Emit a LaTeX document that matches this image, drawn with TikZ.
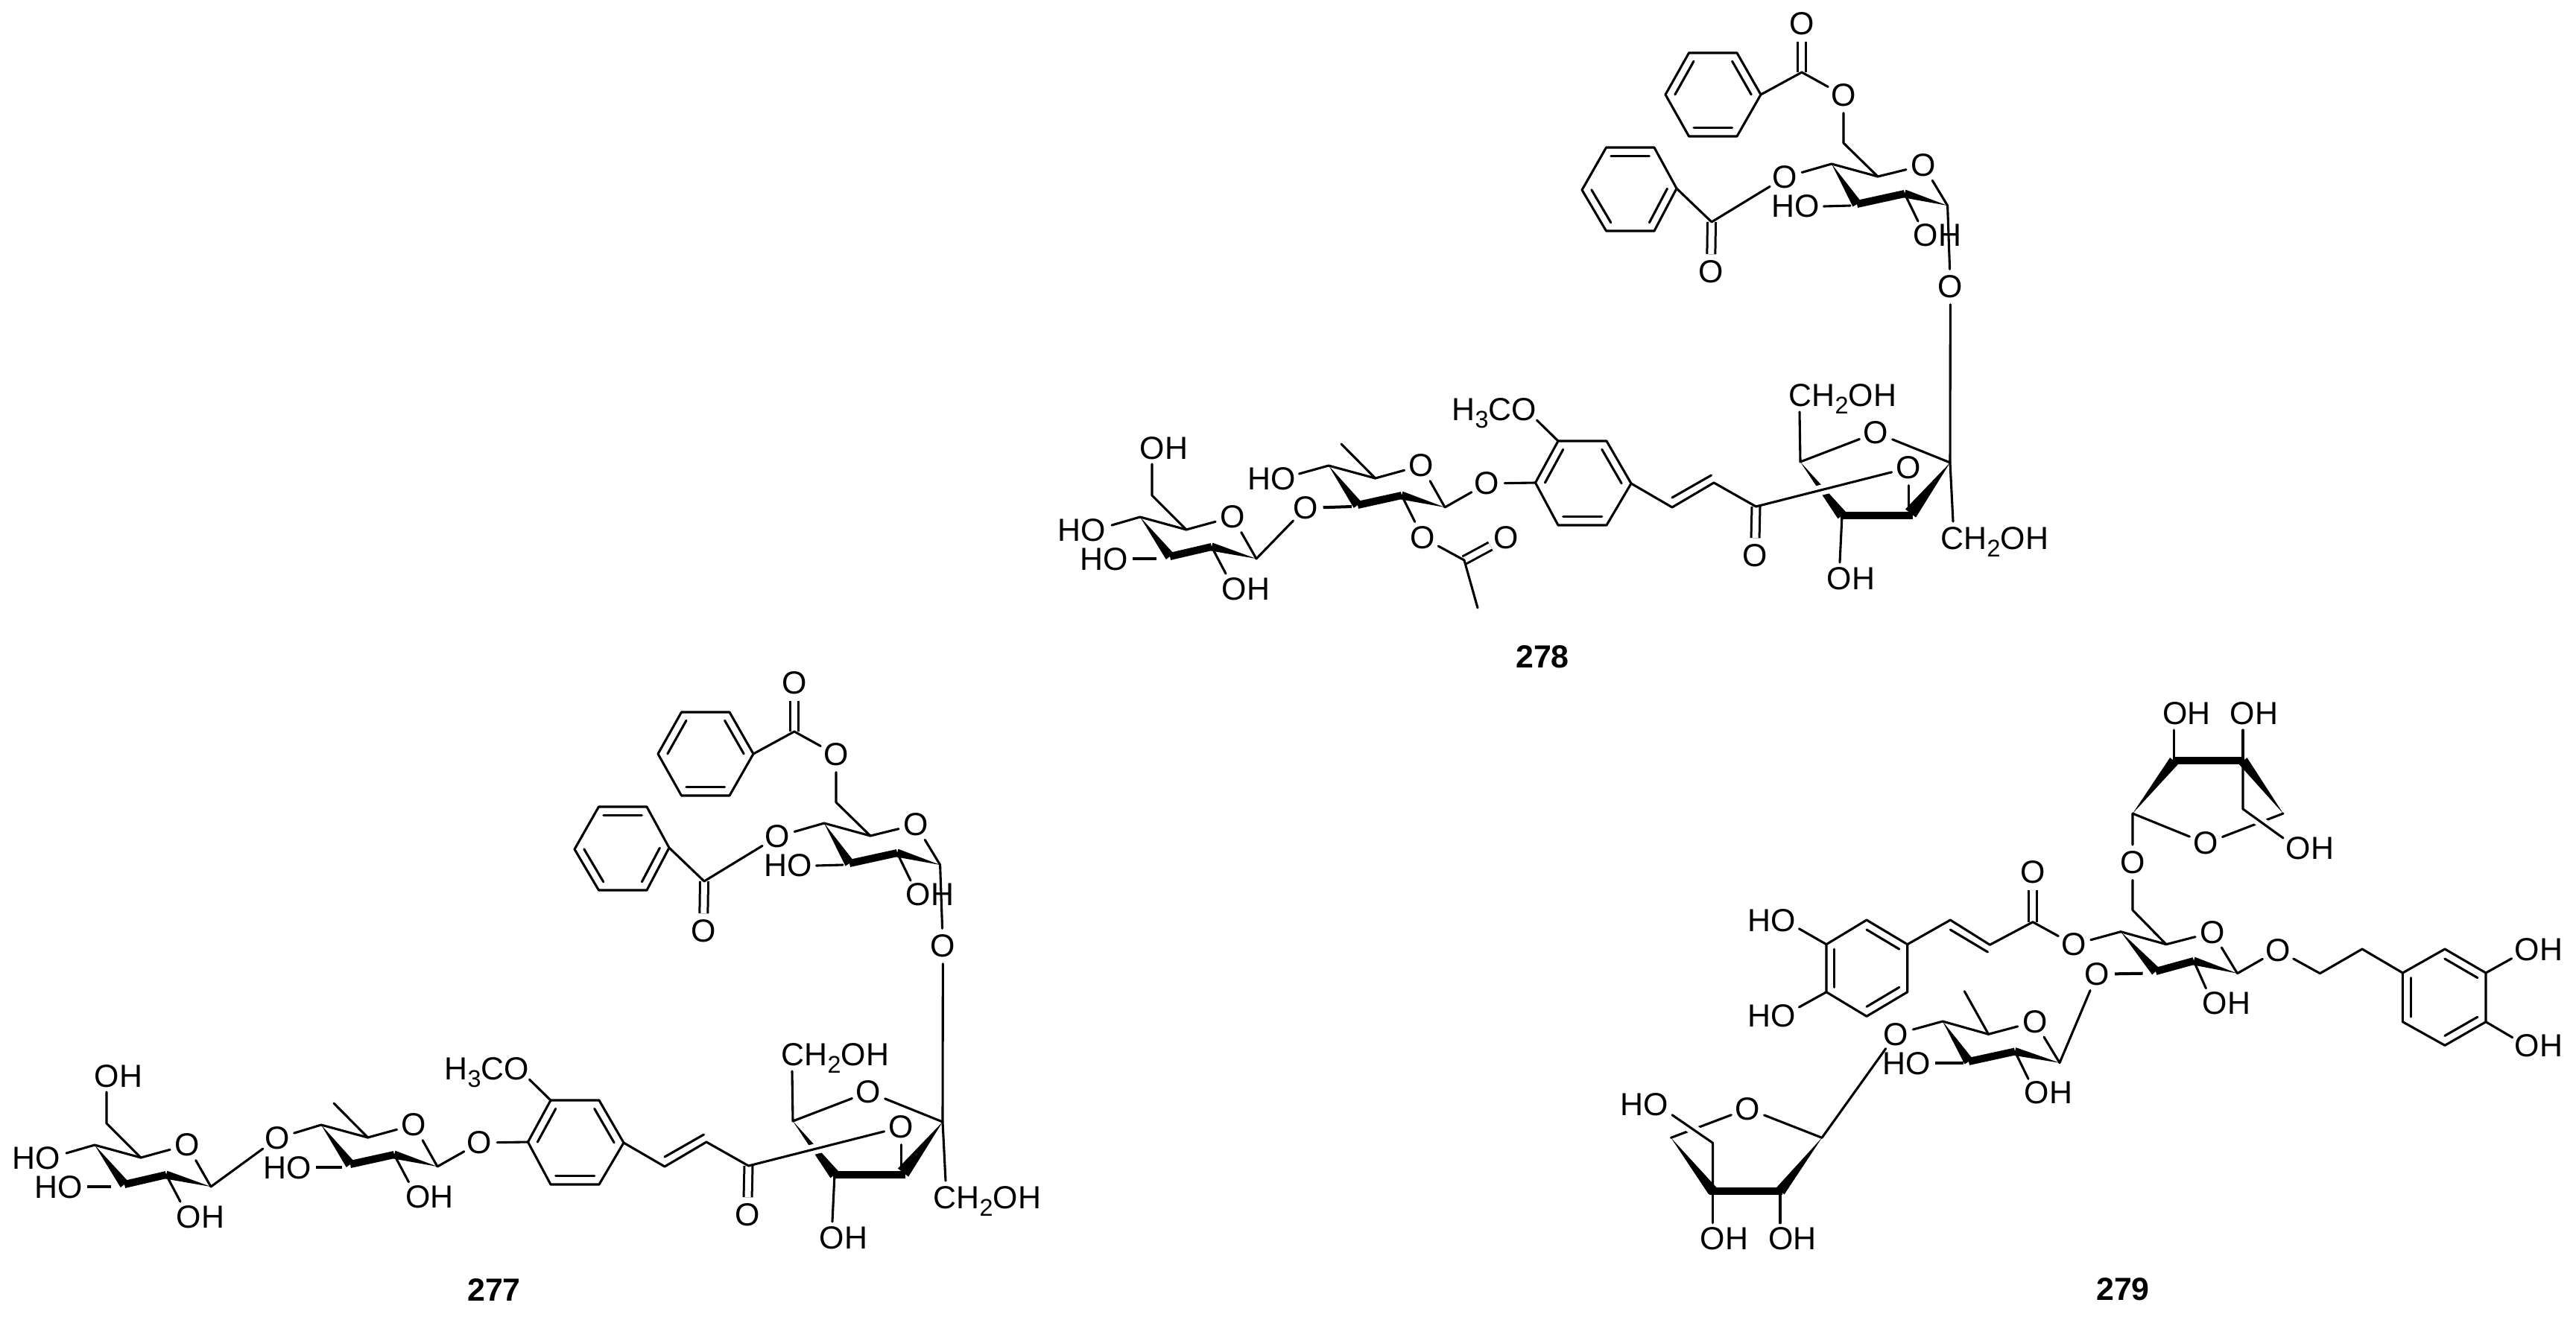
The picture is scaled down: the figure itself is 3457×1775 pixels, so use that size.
\documentclass[tikz,border=0pt]{standalone}
\usepackage{fontspec}
\setmainfont{Liberation Sans}
\usetikzlibrary{calc}
\newcommand{\subn}[1]{\raisebox{-0.24em}{\fontsize{9.2}{9.2}\selectfont #1}}
\newcommand{\wdg}[3]{\fill[black] (#1) -- ($(#2)!#3!90:(#1)$) -- ($(#2)!#3!-90:(#1)$) -- cycle;}
\newcommand{\inb}[3]{\draw[bond] ($(#1)!.2!(#3)$) -- ($(#2)!.2!(#3)$);}
\tikzset{
  bond/.style={line width=.031cm,line cap=round,line join=round},
  bbond/.style={line width=.1cm,line cap=butt},
  dbl/.style={line width=.03cm,double,double distance=.08cm},
  halo/.style={white,line width=.14cm},
  atom/.style={circle,inner sep=0pt,minimum size=.46cm,font=\fontsize{12.2}{14}\selectfont},
  txt/.style={inner sep=0pt,font=\fontsize{12.2}{14}\selectfont},
  txtw/.style={inner sep=0pt,anchor=base west,font=\fontsize{12.2}{14}\selectfont},
  num/.style={inner sep=0pt,font=\fontsize{12.2}{14}\selectfont\bfseries}
}
% glucose ring at the left end of 277 and 278
\newcommand{\sugarA}{
  \coordinate (aC6) at (1546,665); \coordinate (aC5) at (1592,711); \coordinate (aC1) at (1686,750);
  \coordinate (aC2) at (1626,734); \coordinate (aC3) at (1570,747); \coordinate (aC4) at (1530,694);
  \coordinate (e1) at (1546,623); \coordinate (e2) at (1492,705); \coordinate (e3) at (1520,750);
  \coordinate (e4) at (1552,750); \coordinate (e5) at (1645,770);
  \node[atom] (aO) at (1654,694) {O};
  \node[txt] (t1) at (1562,602) {OH};
  \node[txt] (t2) at (1452,711.5) {HO};
  \node[txt] (t3) at (1482,751) {HO};
  \node[txt] (t4) at (1672,790.5) {OH};
  \draw[bond] (e1) -- (aC6) -- (aC5) -- (aO) -- (aC1);
  \draw[bond] (aC4) -- (aC5);
  \draw[bond] (e2) -- (aC4);
  \draw[line width=.045cm] (e3) -- (e4);
  \draw[bond] (aC2) -- (e5);
  \wdg{aC4}{aC3}{.065cm}
  \draw[bbond] (aC3) -- (aC2);
  \wdg{aC1}{aC2}{.055cm}
}
% everything from the second sugar to the benzoylated sugar, as drawn in 278
\newcommand{\commonmol}{
  % second sugar
  \coordinate (bC4) at (1783,625); \coordinate (bC5) at (1845.6,642); \coordinate (bC1) at (1939,681);
  \coordinate (bC2) at (1881,665); \coordinate (bC3) at (1822,678); \coordinate (bMe) at (1800,596);
  \node[atom] (bO) at (1907.5,625) {O};
  \node[atom] (xO) at (1995.5,649) {O};
  \draw[bond] (bMe) -- (bC5); \draw[bond] (bC4) -- (bC5) -- (bO) -- (bC1) -- (xO);
  \wdg{bC4}{bC3}{.065cm}
  \draw[bbond] (bC3) -- (bC2);
  \wdg{bC1}{bC2}{.055cm}
  % aryl ring
  \coordinate (r1) at (2060.5,648); \coordinate (r2) at (2091,592); \coordinate (r3) at (2156,592);
  \coordinate (r4) at (2189,649); \coordinate (r5) at (2156,705); \coordinate (r6) at (2091,705);
  \coordinate (rc) at (2124.7,648.5);
  \draw[bond] (r1) -- (r2) -- (r3) -- (r4) -- (r5) -- (r6) -- cycle;
  \inb{r1}{r2}{rc} \inb{r3}{r4}{rc} \inb{r5}{r6}{rc}
  \draw[bond] (xO) -- (r1);
  \coordinate (me) at (2062.4,564);
  \node[txtw] (tome) at (1948,564) {H\subn{3}CO};
  \draw[bond] (me) -- (r2);
  % enone
  \coordinate (ch1) at (2244,681); \coordinate (ch2) at (2300,648); \coordinate (kC) at (2356.5,680);
  \coordinate (d1) at (2244,668); \coordinate (d2) at (2296.5,638);
  \node[atom] (kO) at (2355,746) {O};
  \draw[dbl] (kC) -- (kO);
  \draw[bond] (r4) -- (ch1) -- (ch2) -- (kC);
  \draw[bond] (d1) -- (d2);
  % furanose
  \coordinate (fS) at (2617,621); \coordinate (fC) at (2416,620); \coordinate (fb) at (2472,692);
  \coordinate (fb0) at (2470,692); \coordinate (fd) at (2567,692); \coordinate (fw) at (2564,689);
  \coordinate (fv) at (2561.6,685); \coordinate (e6) at (2415,553); \coordinate (e7) at (2469,755);
  \coordinate (e8) at (2621,700);
  \node[atom] (fO1) at (2517.6,581) {O};
  \node[atom] (fO2) at (2561.6,628) {O};
  \node[txtw] (t5) at (2400,545) {CH\subn{2}OH};
  \node[txtw] (t6) at (2604,737) {CH\subn{2}OH};
  \node[txt] (t7) at (2484,777) {OH};
  \draw[bond] (fS) -- (fO1) -- (fC) -- (e6);
  \wdg{fC}{fb}{.07cm}
  \draw[halo] ($(fO2)!.50!(kC)$) -- ($(fO2)!.66!(kC)$);
  \draw[bond] (fO2) -- (kC);
  \draw[bond] (fO2) -- (fv);
  \draw[bbond] (fb0) -- (fd);
  \wdg{fS}{fw}{.09cm}
  \draw[bond] (fS) -- (e8);
  \draw[bond] (fb) -- (e7);
  % benzoylated sugar
  \coordinate (c4) at (2458,220); \coordinate (c5) at (2520,237); \coordinate (c1) at (2613.6,276);
  \coordinate (c2) at (2556,260); \coordinate (c3) at (2492,274); \coordinate (c6) at (2474,192);
  \coordinate (e9) at (2447.5,277); \coordinate (e10) at (2483,276); \coordinate (e11) at (2574,297);
  \node[atom] (sO5) at (2581,222) {O};
  \node[atom] (sO) at (2617.4,385) {O};
  \node[txt] (t8) at (2410,277) {HO};
  \node[txt] (t9) at (2600,316) {OH};
  \draw[bond] (c6) -- (c5) -- (sO5) -- (c1) -- (sO) -- (fS);
  \draw[bond] (c4) -- (c5);
  \draw[bond] (e9) -- (e10);
  \draw[bond] (c2) -- (e11);
  \wdg{c4}{c3}{.065cm}
  \draw[bbond] (c3) -- (c2);
  \wdg{c1}{c2}{.055cm}
  % upper benzoyl
  \coordinate (u1) at (2266.5,71); \coordinate (u2) at (2331,71); \coordinate (u3) at (2363,127);
  \coordinate (u4) at (2331,183); \coordinate (u5) at (2266.5,183); \coordinate (u6) at (2235,127);
  \coordinate (uc) at (2299,127); \coordinate (ue) at (2418,97);
  \node[atom] (uO) at (2418,32) {O};
  \node[atom] (uEO) at (2474,128) {O};
  \draw[dbl] (ue) -- (uO);
  \draw[bond] (u1) -- (u2) -- (u3) -- (u4) -- (u5) -- (u6) -- cycle;
  \inb{u1}{u6}{uc} \inb{u2}{u3}{uc} \inb{u4}{u5}{uc}
  \draw[bond] (u3) -- (ue) -- (uEO) -- (c6);
  % lower benzoyl
  \coordinate (l1) at (2155.5,198); \coordinate (l2) at (2220,198); \coordinate (l3) at (2250,253);
  \coordinate (l4) at (2220,310); \coordinate (l5) at (2155.5,310); \coordinate (l6) at (2123,255);
  \coordinate (lc) at (2187,254); \coordinate (le) at (2297,298);
  \node[atom] (lO) at (2296,365) {O};
  \node[atom] (lEO) at (2395.4,238) {O};
  \draw[dbl] (le) -- (lO);
  \draw[bond] (l1) -- (l2) -- (l3) -- (l4) -- (l5) -- (l6) -- cycle;
  \inb{l1}{l2}{lc} \inb{l3}{l4}{lc} \inb{l5}{l6}{lc}
  \draw[bond] (l3) -- (le) -- (lEO) -- (c4);
}
\begin{document}
\begin{tikzpicture}[x=.01cm,y=-.01cm]
\fill[white] (0,0) rectangle (3457,1775);
\useasboundingbox (0,0) rectangle (3457,1775);

% ---------- 278
\begin{scope}[name prefix=m-]
  \commonmol
  \sugarA
  \coordinate (gC) at (1814,680); \coordinate (g1) at (1743.5,636);
  \node[atom] (gO) at (1752,682) {O};
  \node[txt] (g2) at (1707,642.5) {HO};
  \draw[bond] (aC1) -- (gO);
  \draw[line width=.04cm] (gO) -- (gC);
  \draw[bond] (g1) -- (bC4);
  % acetyl
  \coordinate (acC) at (1965,752); \coordinate (acM) at (1983,816);
  \node[atom] (acO) at (1909.4,721.7) {O};
  \node[atom] (acD) at (2021,721.7) {O};
  \draw[dbl] (acC) -- (acD);
  \draw[bond] (bC2) -- (acO) -- (acC) -- (acM);
\end{scope}
\node[num] (n278) at (2070,882) {278};

% ---------- 277
\begin{scope}[shift={(-1352,885)},name prefix=n-]
  \commonmol
\end{scope}
\begin{scope}[shift={(-1403,843)},name prefix=n-]
  \sugarA
\end{scope}
\coordinate (h1) at (424,1567); \coordinate (h2) at (459,1567); \coordinate (h3) at (548.5,1586.7);
\node[atom] (hO) at (372,1528) {O};
\node[txt] (h4) at (386,1567.5) {HO};
\node[txt] (h5) at (576.5,1606.5) {OH};
\draw[bond] (n-aC1) -- (hO) -- (n-bC4);
\draw[line width=.04cm] (h1) -- (h2);
\draw[bond] (n-bC2) -- (h3);
\node[num] (n277) at (663,1731) {277};

% ---------- 279
% top furanose
\coordinate (pL) at (2862,1092); \coordinate (pR) at (3064,1092); \coordinate (pA) at (2917.6,1021.4);
\coordinate (pB) at (3010,1021.4); \coordinate (pX) at (3010,1086); \coordinate (p1) at (2917.6,980);
\coordinate (p2) at (3010,980); \coordinate (p3) at (3064,1125);
\node[txt] (p4) at (2934.6,957.5) {OH};
\node[txt] (p5) at (3025,957.5) {OH};
\node[txt] (p6) at (3100,1138.5) {OH};
\node[atom] (pO) at (2960.4,1132) {O};
\draw[bond] (pL) -- (pO) -- (pR);
\wdg{pL}{pA}{.07cm}
\wdg{pR}{pB}{.07cm}
\draw[bbond] (pA) -- (pB);
\draw[bond] (pA) -- (p1);
\draw[bond] (pB) -- (p2);
\draw[halo] ($(pX)!.2!(p3)$) -- ($(pX)!.7!(p3)$);
\draw[bond] (pB) -- (pX) -- (p3);
% central sugar
\coordinate (qC6) at (2862,1221.7); \coordinate (qC5) at (2907,1267.7); \coordinate (qC4) at (2846,1250.7);
\coordinate (qC3) at (2893,1304); \coordinate (qC2) at (2944,1290); \coordinate (qC1) at (3002.5,1306.7);
\coordinate (q1) at (2875.6,1306.7); \coordinate (q2) at (2960.4,1326.7);
\node[atom] (qO6) at (2862,1157.7) {O};
\node[atom] (qO5) at (2969,1251.7) {O};
\node[atom] (qO4) at (2783,1268) {O};
\node[atom] (qO3) at (2814.3,1307.7) {O};
\node[atom] (qO1) at (3057,1275.5) {O};
\node[txt] (q3) at (2988,1346.5) {OH};
\draw[bond] (pL) -- (qO6) -- (qC6) -- (qC5) -- (qO5) -- (qC1) -- (qO1);
\draw[bond] (qC4) -- (qC5);
\draw[bond] (qC4) -- (qO4);
\draw[line width=.04cm] (qO3) -- (q1);
\draw[bond] (qC2) -- (q2);
\wdg{qC4}{qC3}{.065cm}
\draw[bbond] (qC3) -- (qC2);
\wdg{qC1}{qC2}{.055cm}
% caffeoyl
\coordinate (vC) at (2728,1237.7); \coordinate (v1) at (2670.4,1268.3); \coordinate (v2) at (2617.3,1235);
\coordinate (v3) at (2617.3,1248); \coordinate (v4) at (2667.5,1278);
\coordinate (w1) at (2559.7,1267.7); \coordinate (w2) at (2505,1235); \coordinate (w3) at (2451,1267.7);
\coordinate (w4) at (2451,1331.7); \coordinate (w5) at (2505,1364.3); \coordinate (w6) at (2559.7,1331.7);
\coordinate (wc) at (2505,1299.7); \coordinate (w7) at (2414.4,1246.7); \coordinate (w8) at (2414.4,1352);
\node[atom] (vO) at (2728,1171) {O};
\node[txt] (w9) at (2378,1236) {HO};
\node[txt] (w10) at (2378,1364) {HO};
\draw[dbl] (vC) -- (vO);
\draw[bond] (qO4) -- (vC) -- (v1) -- (v2) -- (w1);
\draw[bond] (v3) -- (v4);
\draw[bond] (w1) -- (w2) -- (w3) -- (w4) -- (w5) -- (w6) -- cycle;
\inb{w1}{w2}{wc} \inb{w3}{w4}{wc} \inb{w5}{w6}{wc}
\draw[bond] (w7) -- (w3);
\draw[bond] (w8) -- (w4);
% hydroxytyrosol
\coordinate (y1) at (3113.4,1306.7); \coordinate (y2) at (3170,1274);
\coordinate (z1) at (3224.4,1306); \coordinate (z2) at (3281,1274); \coordinate (z3) at (3336,1306);
\coordinate (z4) at (3336,1371.7); \coordinate (z5) at (3281,1403.3); \coordinate (z6) at (3224.4,1371.7);
\coordinate (zc) at (3280,1339); \coordinate (z7) at (3370.6,1286.7); \coordinate (z8) at (3371.7,1392.7);
\node[txt] (z9) at (3407,1275) {OH};
\node[txt] (z10) at (3407,1404) {OH};
\draw[bond] (qO1) -- (y1) -- (y2) -- (z1);
\draw[bond] (z1) -- (z2) -- (z3) -- (z4) -- (z5) -- (z6) -- cycle;
\inb{z2}{z3}{zc} \inb{z4}{z5}{zc} \inb{z6}{z1}{zc}
\draw[bond] (z3) -- (z7);
\draw[bond] (z4) -- (z8);
% rhamnose
\coordinate (sC1) at (2764,1426.7); \coordinate (sC2) at (2704,1411.5); \coordinate (sC3) at (2642,1425);
\coordinate (sC4) at (2607,1371); \coordinate (sC5) at (2668.5,1388.3); \coordinate (sMe) at (2636.3,1330.7);
\coordinate (s1) at (2597,1426.7); \coordinate (s2) at (2635,1426.7); \coordinate (s3) at (2722,1448.3);
\node[atom] (sO) at (2730.7,1371.7) {O};
\node[atom] (sO4) at (2544.5,1388.3) {O};
\node[txt] (s4) at (2558.7,1427.5) {HO};
\node[txt] (s5) at (2749,1467) {OH};
\draw[bond] (qO3) -- (sC1) -- (sO) -- (sC5) -- (sC4) -- (sO4);
\draw[bond] (sMe) -- (sC5);
\draw[line width=.04cm] (s1) -- (s2);
\draw[bond] (sC2) -- (s3);
\wdg{sC4}{sC3}{.065cm}
\draw[bbond] (sC3) -- (sC2);
\wdg{sC1}{sC2}{.055cm}
% bottom furanose
\coordinate (kL) at (2242.4,1527.3); \coordinate (kR) at (2445,1527.3); \coordinate (kA) at (2298.6,1599);
\coordinate (kA0) at (2293.5,1599); \coordinate (kB) at (2389,1599); \coordinate (kB0) at (2392,1599);
\coordinate (kX) at (2298.6,1534.3); \coordinate (k1) at (2244,1496.7);
\coordinate (k2) at (2298.6,1641.7); \coordinate (k3) at (2389,1641.7);
\node[atom] (kO) at (2345.5,1488.3) {O};
\node[txt] (k4) at (2207,1482.5) {HO};
\node[txt] (k5) at (2314,1663) {OH};
\node[txt] (k6) at (2405.5,1663) {OH};
\draw[bond] (sO4) -- (kR) -- (kO) -- (kL);
\wdg{kL}{kA}{.07cm}
\wdg{kR}{kB}{.07cm}
\draw[bbond] (kA0) -- (kB0);
\draw[bond] (kA) -- (k2);
\draw[bond] (kB) -- (k3);
\draw[halo] ($(kX)!.2!(k1)$) -- ($(kX)!.7!(k1)$);
\draw[bond] (kA) -- (kX) -- (k1);
\node[num] (n279) at (2849,1731) {279};
\end{tikzpicture}
\end{document}
